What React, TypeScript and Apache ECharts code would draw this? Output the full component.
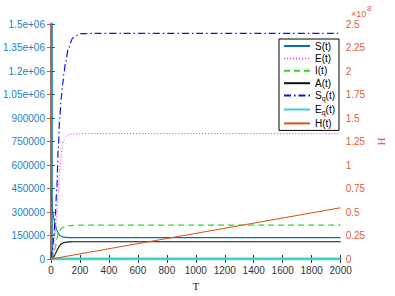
import React, { useEffect, useRef } from 'react';
import * as echarts from 'echarts';

const T = [0, 10, 20, 30, 40, 50, 60, 70, 80, 90, 100, 120, 150, 200, 300, 500, 1000, 1500, 2000];
const S = [450000, 310000, 255000, 215000, 185000, 165000, 153000, 146000, 141000, 139000, 138000, 137000, 136000, 136000, 136000, 136000, 136000, 136000, 136000];
const E = [0, 20000, 80000, 180000, 300000, 420000, 560000, 665000, 725000, 760000, 778000, 792000, 798000, 800000, 800000, 800000, 800000, 800000, 800000];
const I = [0, 15000, 40000, 75000, 125000, 160000, 180000, 192000, 200000, 205000, 208000, 212000, 215000, 216000, 216000, 216000, 216000, 216000, 216000];
const A = [0, 5000, 15000, 32000, 52000, 70000, 85000, 96000, 102000, 105000, 107000, 109000, 110000, 110000, 110000, 110000, 110000, 110000, 110000];
const Sq = [0, 60000, 150000, 280000, 450000, 700000, 895000, 1020000, 1110000, 1190000, 1250000, 1345000, 1410000, 1438000, 1440000, 1440000, 1440000, 1440000, 1440000];
const Eq = [0, 0, 0, 0, 0, 0, 0, 0, 0, 0, 0, 0, 0, 0, 0, 0, 0, 0, 0];
const H_T = [0, 2000];
const H = [0, 54500000];

const names = ['S(t)', 'E(t)', 'I(t)', 'A(t)', 'Sq(t)', 'Eq(t)', 'H(t)'];

const pair = (xs: number[], ys: number[]) => xs.map((x, i) => [x, ys[i]]);

export default function App() {
  const ref = useRef<HTMLDivElement>(null);
  useEffect(() => {
    if (!ref.current) return;
    const chart = echarts.init(ref.current, null, { renderer: 'svg' });
    const font = 'Liberation Sans';
    const mk = (name: string, ys: number[], color: string, type: any, width = 1.2, xs = T, yAxisIndex = 0) => ({
      name,
      type: 'line',
      data: pair(xs, ys),
      yAxisIndex,
      symbol: 'none',
      smooth: 0.3,
      smoothMonotone: 'x',
      lineStyle: { color, type, width },
      itemStyle: { color },
    });
    chart.setOption({
      animation: false,
      backgroundColor: '#fff',
      grid: { left: 50, right: 48, top: 24, bottom: 37 },
      legend: {
        data: names,
        orient: 'vertical',
        left: 279,
        top: 39,
        padding: [2, 4, 2, 4],
        itemWidth: 26,
        itemHeight: 10,
        itemGap: 2.4,
        backgroundColor: '#fff',
        borderColor: '#000',
        borderWidth: 1,
        borderRadius: 0,
        itemStyle: { opacity: 0 },
        formatter: (n: string) => (n === 'Sq(t)' ? 'S{sub|q}(t)' : n === 'Eq(t)' ? 'E{sub|q}(t)' : n),
        textStyle: {
          fontFamily: font,
          fontSize: 10,
          color: '#000',
          rich: {
            sub: { fontSize: 7, fontFamily: font, color: '#000', padding: [6, 0, 0, 0] },
          },
        },
      },
      xAxis: [
        {
          type: 'value',
          min: 0,
          max: 2000,
          interval: 200,
          name: 'T',
          nameLocation: 'middle',
          nameGap: 21,
          nameTextStyle: { fontFamily: 'Liberation Serif', fontSize: 11, color: '#222' },
          axisLine: { show: true, lineStyle: { color: '#444', width: 1 } },
          axisTick: { show: true, inside: true, length: 4, lineStyle: { color: '#333' } },
          axisLabel: { fontFamily: font, fontSize: 10, color: '#333', margin: 6, formatter: (v: number) => String(v) },
          splitLine: { show: false },
        },
        {
          type: 'value',
          min: 0,
          max: 2000,
          interval: 200,
          position: 'top',
          axisLine: { show: true, lineStyle: { color: '#888', width: 2 } },
          axisTick: { show: true, inside: true, length: 4, lineStyle: { color: '#333' } },
          axisLabel: { show: false },
          splitLine: { show: false },
        },
      ],
      yAxis: [
        {
          type: 'value',
          min: 0,
          max: 1500000,
          interval: 150000,
          axisLine: { show: true, lineStyle: { color: '#0072BD', width: 2.5 } },
          axisTick: { show: true, inside: true, length: 4, lineStyle: { color: '#0072BD' } },
          axisLabel: {
            fontFamily: font,
            fontSize: 10,
            color: '#1A7FC8',
            margin: 6,
            formatter: (v: number) => (v < 1e6 ? String(v) : parseFloat((v / 1e6).toFixed(2)) + 'e+06'),
          },
          splitLine: { show: false },
        },
        {
          type: 'value',
          min: 0,
          max: 250000000,
          interval: 25000000,
          position: 'right',
          name: 'H',
          nameLocation: 'middle',
          nameGap: 23,
          nameRotate: -90,
          nameTextStyle: { fontFamily: 'Liberation Serif', fontSize: 11, color: '#D95319' },
          axisLine: { show: true, lineStyle: { color: '#A0705A', width: 2 } },
          axisTick: { show: true, inside: true, length: 4, lineStyle: { color: '#D95319' } },
          axisLabel: {
            fontFamily: font,
            fontSize: 10,
            color: '#E0603A',
            margin: 5,
            formatter: (v: number) => String(parseFloat((v / 1e8).toFixed(2))),
          },
          splitLine: { show: false },
        },
      ],
      graphic: [
        { type: 'text', left: 351, top: 9, style: { text: '×10', fontFamily: font, fontSize: 9, fill: '#E0603A' } },
        { type: 'text', left: 367, top: 4, style: { text: '8', fontFamily: font, fontSize: 8, fill: '#E0603A' } },
      ],
      series: [
        mk('S(t)', S, '#0072BD', 'solid'),
        mk('E(t)', E, '#FF55FF', [1.2, 1.8]),
        mk('I(t)', I, '#22DD22', [6, 4]),
        mk('A(t)', A, '#111111', 'solid'),
        mk('Sq(t)', Sq, '#1010F0', [7, 3, 1.5, 3]),
        mk('Eq(t)', Eq, '#40D0D0', 'solid', 3),
        mk('H(t)', H, '#D95319', 'solid', 1.2, H_T, 1),
      ],
    });
    return () => chart.dispose();
  }, []);
  return <div ref={ref} style={{ width: 395, height: 296, position: 'absolute', left: 0, top: 0 }} />;
}
